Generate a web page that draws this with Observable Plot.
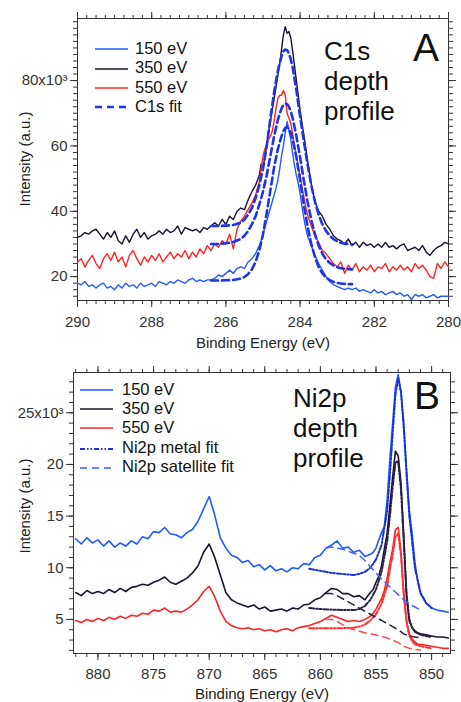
<!DOCTYPE html>
<html><head><meta charset="utf-8">
<script src="https://cdn.jsdelivr.net/npm/d3@7"></script>
<script src="https://cdn.jsdelivr.net/npm/@observablehq/plot@0.6"></script>
<style>
body{margin:0;background:#fff;}
#wrap{position:relative;width:461px;height:702px;font-family:"Liberation Sans",Arial,sans-serif;color:#111;overflow:hidden;background:#fff}
.abs{position:absolute;white-space:nowrap}
</style></head><body><div id="wrap"><div id="pa" class="abs" style="left:0;top:0"></div><div id="pb" class="abs" style="left:0;top:355px"></div></div>
<script>
// ---------- Panel A : C1s ----------
const eA = [290.0,289.9,289.8,289.7,289.6,289.5,289.4,289.3,289.2,289.1,
289.0,288.9,288.8,288.7,288.6,288.5,288.4,288.3,288.2,288.1,
288.0,287.9,287.8,287.7,287.6,287.5,287.4,287.3,287.2,287.1,
287.0,286.9,286.8,286.7,286.6,286.5,286.4,286.3,286.2,286.1,
286.0,285.9,285.8,285.7,285.6,285.5,285.4,285.3,285.2,285.1,
285.05,285.0,284.95,284.9,284.85,284.8,284.75,284.7,284.65,284.6,
284.55,284.5,284.45,284.4,284.35,284.3,284.25,284.2,284.15,284.1,
284.05,284.0,283.95,283.9,283.85,283.8,
283.7,283.6,283.5,283.4,283.3,283.2,283.1,283.0,282.9,282.8,
282.7,282.6,282.5,282.4,282.3,282.2,282.1,282.0,281.9,281.8,
281.7,281.6,281.5,281.4,281.3,281.2,281.1,281.0,280.9,280.8,
280.7,280.6,280.5,280.4,280.3,280.2,280.1,280.0];
const c1s350 = [32.0,32.5,33.5,33.0,34.0,34.5,33.0,31.5,33.5,32.0,
34.0,31.0,30.0,32.5,30.5,33.0,34.5,32.0,33.5,31.5,
32.5,33.0,34.0,33.0,34.5,33.5,34.0,35.5,33.0,35.0,
34.5,34.0,34.5,33.5,35.0,34.5,35.5,36.5,35.5,37.5,
36.0,38.5,37.5,40.0,41.0,40.5,43.5,46.0,48.0,51.0,
54.5,53.5,56.5,60.5,64.5,67.5,71.0,74.5,78.0,81.5,
85.0,89.5,94.0,96.5,94.5,95.0,93.0,89.0,84.5,80.0,
75.5,71.0,67.0,63.5,59.5,55.5,
48.5,43.0,40.0,38.5,36.0,34.5,32.5,31.5,31.0,30.0,
31.5,29.5,30.5,29.0,30.5,29.5,30.0,29.0,30.0,29.0,
30.5,29.0,29.5,28.5,29.5,30.0,28.0,28.5,29.0,28.0,
29.5,27.5,26.5,28.0,29.0,29.5,30.5,30.0];
const c1s550 = [24.5,25.5,23.0,25.0,26.5,24.0,22.5,25.5,27.0,25.0,
27.5,24.5,26.0,23.0,26.5,28.0,25.5,23.5,26.0,24.5,
26.5,25.0,27.0,24.5,26.0,27.5,25.5,27.0,26.0,28.0,
25.5,27.5,26.0,28.5,27.0,29.5,28.0,30.0,29.0,31.0,
30.0,33.0,28.5,34.5,37.0,38.5,40.5,42.5,45.0,49.0,
53.0,57.0,59.0,60.5,62.0,63.0,64.5,67.5,71.5,74.5,
75.5,75.5,77.0,75.5,70.0,68.5,67.0,63.5,60.0,57.0,
53.5,51.0,47.5,44.5,41.5,39.0,
35.5,32.5,30.5,28.0,27.0,25.5,24.0,23.0,24.5,21.0,
23.5,22.0,24.0,21.5,23.0,22.0,23.5,21.5,23.0,22.5,
24.0,21.5,23.0,22.0,23.5,22.0,23.0,21.5,24.0,22.5,
23.5,22.0,20.0,19.5,24.0,22.5,24.5,23.0];
const c1s150 = [18.0,17.5,18.5,17.0,17.5,16.5,17.5,18.0,16.5,17.0,
16.0,17.5,16.5,18.0,17.0,17.5,16.5,18.0,17.0,17.5,
18.0,17.0,18.5,18.0,17.5,18.5,18.0,19.0,18.5,18.0,
19.0,19.5,18.5,19.0,18.5,19.0,19.0,19.5,20.5,20.0,
21.0,22.0,21.0,22.5,23.0,22.5,24.5,25.5,27.0,29.5,
31.0,33.0,35.0,37.0,39.0,41.0,43.0,45.0,47.0,49.5,
53.0,57.0,60.0,64.0,67.5,64.5,62.0,57.5,54.0,51.0,
48.5,45.5,41.5,38.0,35.0,32.5,
29.5,26.5,24.0,22.0,20.0,18.5,17.5,17.0,16.5,16.0,
16.5,16.0,16.5,15.5,16.0,15.5,15.0,16.0,15.0,15.5,
14.5,15.0,15.5,14.5,15.0,14.0,14.5,13.0,14.5,14.0,
14.5,13.5,14.0,14.5,13.5,14.0,14.0,14.0];
const fitEA = [286.4,286.2,286.0,285.8,285.6,285.5,285.4,285.3,285.2,285.1,
285.0,284.9,284.8,284.7,284.6,284.5,284.45,284.4,284.35,284.3,
284.25,284.2,284.1,284.0,283.9,283.8,283.7,283.6,283.5,283.4,
283.3,283.2,283.1,283.0,282.9,282.8,282.7,282.6];
const fit350 = [35.5,35.5,35.6,35.8,36.5,37.5,39.0,41.0,44.0,48.0,53.0,60.0,68.5,76.5,83.0,87.5,89.0,89.5,89.3,88.3,86.5,84.0,77.0,69.0,61.5,54.5,48.0,43.0,39.0,36.0,34.0,32.5,31.5,30.8,30.4,30.1,30.0,29.9];
const fit550 = [30.0,30.0,30.2,30.6,31.5,32.5,34.0,36.0,38.5,42.0,46.0,51.0,57.0,63.0,68.0,71.5,72.5,73.0,72.8,72.0,70.5,68.5,63.0,56.5,49.5,43.0,37.5,33.0,29.5,27.0,25.3,24.2,23.4,22.9,22.6,22.4,22.3,22.2];
const fit150 = [18.8,18.8,18.9,19.0,19.4,19.9,20.8,22.2,24.5,28.0,33.0,39.5,46.5,53.5,59.0,63.0,64.5,65.5,65.8,65.3,64.0,62.0,56.5,49.5,42.0,35.5,30.0,26.0,23.0,21.0,19.7,18.9,18.4,18.1,17.9,17.8,17.7,17.7];
const xTicksA = [290,288,286,284,282,280];
const yTicksA = [20,40,60,80];
const yTickLabelsA = ["20","40","60","80x10\u00B3"];
const legendA = ["150 eV","350 eV","550 eV","C1s fit"];
const annotA = ["C1s","depth","profile"];

// ---------- Panel B : Ni2p ----------
const eB = [882.0,881.5,881.0,880.5,880.0,879.5,879.0,878.5,878.0,877.5,
877.0,876.5,876.0,875.5,875.0,874.5,874.0,873.5,873.0,872.5,
872.0,871.5,871.0,870.5,870.0,869.5,869.0,868.5,868.0,867.5,
867.0,866.5,866.0,865.5,865.0,864.5,864.0,863.5,863.0,862.5,
862.0,861.5,861.0,860.5,860.0,859.5,859.0,858.5,858.0,857.5,
857.0,856.5,856.0,855.5,
855.25,855.0,854.75,854.5,854.25,854.0,853.75,853.5,853.25,853.0,
852.75,852.5,852.25,852.0,851.75,851.5,851.25,851.0,
850.5,850.0,849.5,849.0,848.5];
const ni150 = [12.8,12.3,12.9,12.4,12.7,12.1,12.6,12.0,12.4,12.1,
12.6,12.3,13.0,12.8,13.5,13.4,13.9,13.3,13.2,12.9,
13.4,13.7,14.5,15.7,16.9,15.1,12.9,11.9,11.2,11.0,
10.5,10.7,10.1,10.3,9.8,10.2,9.7,9.9,9.6,10.0,
9.9,10.4,10.3,11.0,11.2,11.9,12.2,12.6,11.9,12.0,
11.5,11.7,11.1,11.3,
11.5,11.9,12.7,13.4,14.0,16.5,20.5,24.0,27.5,28.7,
27.0,24.0,19.5,15.5,13.3,10.5,8.7,7.5,
6.6,6.1,5.9,5.8,5.7];
const ni350 = [7.6,7.3,7.8,7.5,7.7,7.5,7.9,7.6,8.0,7.7,
8.1,8.2,8.4,8.3,8.6,8.8,9.1,8.6,8.4,8.7,
9.0,9.5,10.2,11.5,12.3,11.0,9.3,7.6,6.9,6.6,
6.4,6.2,6.4,6.0,6.2,5.8,5.9,6.0,5.8,6.1,
6.0,6.4,6.5,6.9,7.1,7.6,8.0,7.9,7.5,7.5,
7.2,7.3,6.9,7.6,
7.9,8.6,9.2,10.2,11.8,13.3,16.0,18.8,21.3,20.8,
18.2,13.0,7.0,4.8,4.2,3.9,3.7,3.6,
3.5,3.4,3.3,3.3,3.2];
const ni550 = [4.9,4.7,5.0,4.8,5.1,4.9,5.2,5.0,5.3,5.1,
5.4,5.3,5.6,5.5,5.9,5.8,6.1,5.7,5.8,5.7,
6.0,6.4,6.9,7.7,8.2,7.2,5.8,4.8,4.4,4.2,
4.1,4.2,4.0,4.1,3.9,4.0,3.8,4.0,4.1,3.9,
4.2,4.3,4.4,4.6,4.8,5.1,5.4,5.2,5.0,4.8,
4.9,4.8,5.0,5.3,
5.6,6.0,6.5,7.0,7.8,9.0,10.5,11.8,13.7,13.9,
11.5,7.2,4.8,3.6,3.1,2.8,2.6,2.6,
2.5,2.4,2.3,2.2,2.2];
const metalE = [861.0,860.0,859.0,858.0,857.0,856.5,856.0,855.5,855.0,854.5,854.0,853.75,853.5,853.25,853.0,852.75,852.5,852.25,852.0,851.75,851.5,851.0,850.5,850.0];
const metal150 = [9.9,9.7,9.5,9.4,9.3,9.4,9.6,10.0,10.8,12.2,15.5,19.0,23.0,26.8,28.3,27.0,23.5,19.0,15.0,12.5,10.0,7.6,6.6,6.1];
const metal350 = [6.1,6.0,5.95,5.9,5.9,6.0,6.3,6.9,7.9,9.6,12.5,15.0,17.8,20.2,20.3,17.5,12.5,7.5,5.0,4.2,3.8,3.5,3.4,3.3];
const metal550 = [4.15,4.15,4.15,4.15,4.2,4.3,4.5,4.9,5.5,6.5,8.2,9.8,11.3,13.0,13.3,11.2,7.5,4.8,3.4,2.9,2.6,2.4,2.3,2.2];
const satE = [859.5,859.0,858.5,858.0,857.5,857.0,856.5,856.0,855.5,855.0,854.5,854.0,853.5,853.0,852.5,852.0,851.5,851.0];
const sat150 = [11.9,12.0,11.9,11.8,11.6,11.4,11.2,10.7,10.1,9.5,8.9,8.4,7.9,7.4,6.9,6.5,6.2,5.9];
const sat350 = [7.5,7.5,7.3,7.0,6.7,6.4,6.1,5.8,5.5,5.2,4.9,4.6,4.3,4.0,3.6,3.4,3.3,3.2];
const sat550 = [5.0,5.0,4.8,4.5,4.2,4.0,3.85,3.7,3.6,3.5,3.35,3.2,3.0,2.75,2.4,2.2,2.1,2.05];
const xTicksB = [880,875,870,865,860,855,850];
const yTicksB = [5,10,15,20,25];
const yTickLabelsB = ["5","10","15","20","25x10\u00B3"];
const legendB = ["150 eV","350 eV","550 eV","Ni2p metal fit","Ni2p satellite fit"];
const annotB = ["Ni2p","depth","profile"];

// ---------- styles ----------
const C150 = "#1f5bff", C350 = "#1c1236", C550 = "#ff2222";
const CFIT = "#1f34e6";
const AX = "#333";

function frameAxes(o) {
  const blank = () => "";
  return [
    Plot.axisX({ticks: o.xMinor, anchor: "bottom", tickSize: 4, tickFormat: blank, label: null, color: AX}),
    Plot.axisX({ticks: o.xMajor, anchor: "bottom", tickSize: 7, tickPadding: o.xPad, tickFormat: d => String(d), fontSize: 15, label: null, color: AX}),
    Plot.axisX({ticks: o.xMinor, anchor: "top", tickSize: 4, tickFormat: blank, label: null, color: AX}),
    Plot.axisX({ticks: o.xMajor, anchor: "top", tickSize: 7, tickFormat: blank, label: null, color: AX}),
    Plot.axisY({ticks: o.yMinor, anchor: "left", tickSize: 4, tickFormat: blank, label: null, color: AX}),
    Plot.axisY({ticks: o.yMajor, anchor: "left", tickSize: 7, tickPadding: 3, tickFormat: d => o.yLabels[o.yMajor.indexOf(d)], fontSize: 15, label: null, color: AX}),
    Plot.axisY({ticks: o.yMinor, anchor: "right", tickSize: 4, tickFormat: blank, label: null, color: AX}),
    Plot.axisY({ticks: o.yMajor, anchor: "right", tickSize: 7, tickFormat: blank, label: null, color: AX}),
    Plot.frame({stroke: AX, strokeWidth: 1})
  ];
}
const baseStyle = {fontFamily: '"Liberation Sans", Arial, sans-serif', fontSize: "15px", background: "#fff", overflow: "visible"};

const plotA = Plot.plot({
  width: 461, height: 355,
  marginLeft: 77, marginRight: 13, marginTop: 18, marginBottom: 55,
  style: baseStyle,
  x: {domain: [290, 280]},
  y: {domain: [12.7, 99]},
  marks: [
    ...frameAxes({xMajor: xTicksA, xMinor: d3.range(280, 290.001, 0.25), xPad: 9,
                  yMajor: yTicksA, yMinor: d3.range(14, 99, 2), yLabels: yTickLabelsA}),
    Plot.line(c1s350, {x: eA, y: c1s350, stroke: C350, strokeWidth: 1.4}),
    Plot.line(c1s550, {x: eA, y: c1s550, stroke: C550, strokeWidth: 1.4}),
    Plot.line(c1s150, {x: eA, y: c1s150, stroke: C150, strokeWidth: 1.4}),
    Plot.line(fit350, {x: fitEA, y: fit350, stroke: CFIT, strokeWidth: 2.6, strokeDasharray: "7,4"}),
    Plot.line(fit550, {x: fitEA, y: fit550, stroke: CFIT, strokeWidth: 2.6, strokeDasharray: "7,4"}),
    Plot.line(fit150, {x: fitEA, y: fit150, stroke: CFIT, strokeWidth: 2.6, strokeDasharray: "7,4"})
  ]
});
document.getElementById("pa").appendChild(plotA);

const plotB = Plot.plot({
  width: 461, height: 347,
  marginLeft: 73, marginRight: 11, marginTop: 17, marginBottom: 49,
  style: baseStyle,
  x: {domain: [882.2, 848.3]},
  y: {domain: [1.7, 28.9]},
  marks: [
    ...frameAxes({xMajor: xTicksB, xMinor: d3.range(849, 882.5, 1), xPad: 8,
                  yMajor: yTicksB, yMinor: d3.range(2, 29, 1), yLabels: yTickLabelsB}),
    Plot.line(ni150, {x: eB, y: ni150, stroke: C150, strokeWidth: 1.6}),
    Plot.line(ni350, {x: eB, y: ni350, stroke: C350, strokeWidth: 1.6}),
    Plot.line(ni550, {x: eB, y: ni550, stroke: C550, strokeWidth: 1.6}),
    Plot.line(metal150, {x: metalE, y: metal150, stroke: "#1a2fd8", strokeWidth: 2, strokeDasharray: "5,2,1.5,2,1.5,2"}),
    Plot.line(metal350, {x: metalE, y: metal350, stroke: "#2a2045", strokeWidth: 2, strokeDasharray: "5,2,1.5,2,1.5,2"}),
    Plot.line(metal550, {x: metalE, y: metal550, stroke: "#ff3030", strokeWidth: 2, strokeDasharray: "5,2,1.5,2,1.5,2"}),
    Plot.line(sat150, {x: satE, y: sat150, stroke: "#3f62ff", strokeWidth: 1.5, strokeDasharray: "7,5"}),
    Plot.line(sat350, {x: satE, y: sat350, stroke: "#2a2045", strokeWidth: 1.5, strokeDasharray: "7,5"}),
    Plot.line(sat550, {x: satE, y: sat550, stroke: "#ff4a4a", strokeWidth: 1.5, strokeDasharray: "7,5"})
  ]
});
document.getElementById("pb").appendChild(plotB);

// ---------- HTML texts & legends ----------
const wrap = document.getElementById("wrap");
function addText(txt, left, top, size, extra) {
  const d = document.createElement("div");
  d.className = "abs";
  d.textContent = txt;
  d.style.cssText += `left:${left}px;top:${top}px;font-size:${size}px;line-height:${size}px;` + (extra || "");
  wrap.appendChild(d);
  return d;
}
function addLegend(labels, styles, x0, x1, tx, yc, size) {
  labels.forEach((lab, i) => {
    const s = styles[i];
    const svg = document.createElementNS("http://www.w3.org/2000/svg", "svg");
    svg.setAttribute("width", x1 - x0); svg.setAttribute("height", 8);
    svg.style.cssText = `position:absolute;left:${x0}px;top:${yc[i] - 4}px;overflow:visible`;
    const ln = document.createElementNS("http://www.w3.org/2000/svg", "line");
    ln.setAttribute("x1", 0); ln.setAttribute("x2", x1 - x0); ln.setAttribute("y1", 4); ln.setAttribute("y2", 4);
    ln.setAttribute("stroke", s.c); ln.setAttribute("stroke-width", s.w);
    if (s.d) ln.setAttribute("stroke-dasharray", s.d);
    svg.appendChild(ln); wrap.appendChild(svg);
    addText(lab, tx, yc[i] - size / 2 - 1, size, "");
  });
}
function addBlock(lines, left, top, size, lh) {
  const d = document.createElement("div");
  d.className = "abs";
  d.style.cssText += `left:${left}px;top:${top}px;font-size:${size}px;line-height:${lh}px;`;
  d.innerHTML = lines.join("<br>");
  wrap.appendChild(d);
}

// Panel A texts
addLegend(legendA,
  [{c: C150, w: 1.5}, {c: C350, w: 1.5}, {c: C550, w: 1.5}, {c: CFIT, w: 2.6, d: "7,5"}],
  95, 128, 135, [49, 68.5, 88, 107], 16.5);
addBlock(annotA, 324, 36, 26, 30);
addText("A", 413, 28, 39, "");
addText("Binding Energy (eV)", 263, 335, 15, "transform:translateX(-50%);color:#222");
addText("Intensity (a.u.)", 24, 159, 15, "transform:translate(-50%,-50%) rotate(-90deg);color:#222");

// Panel B texts
addLegend(legendB,
  [{c: C150, w: 1.5}, {c: C350, w: 1.5}, {c: C550, w: 1.5}, {c: "#1a2fd8", w: 2, d: "5,2,1.5,2,1.5,2"}, {c: "#3f62ff", w: 1.5, d: "7,5"}],
  80, 113, 122, [390, 409, 428, 448.5, 467.5], 16.5);
addBlock(annotB, 293, 383, 26, 30);
addText("B", 414, 376, 39, "");
addText("Binding Energy (eV)", 262, 686, 15, "transform:translateX(-50%);color:#222");
addText("Intensity (a.u.)", 24, 506, 15, "transform:translate(-50%,-50%) rotate(-90deg);color:#222");
</script>
</body></html>
